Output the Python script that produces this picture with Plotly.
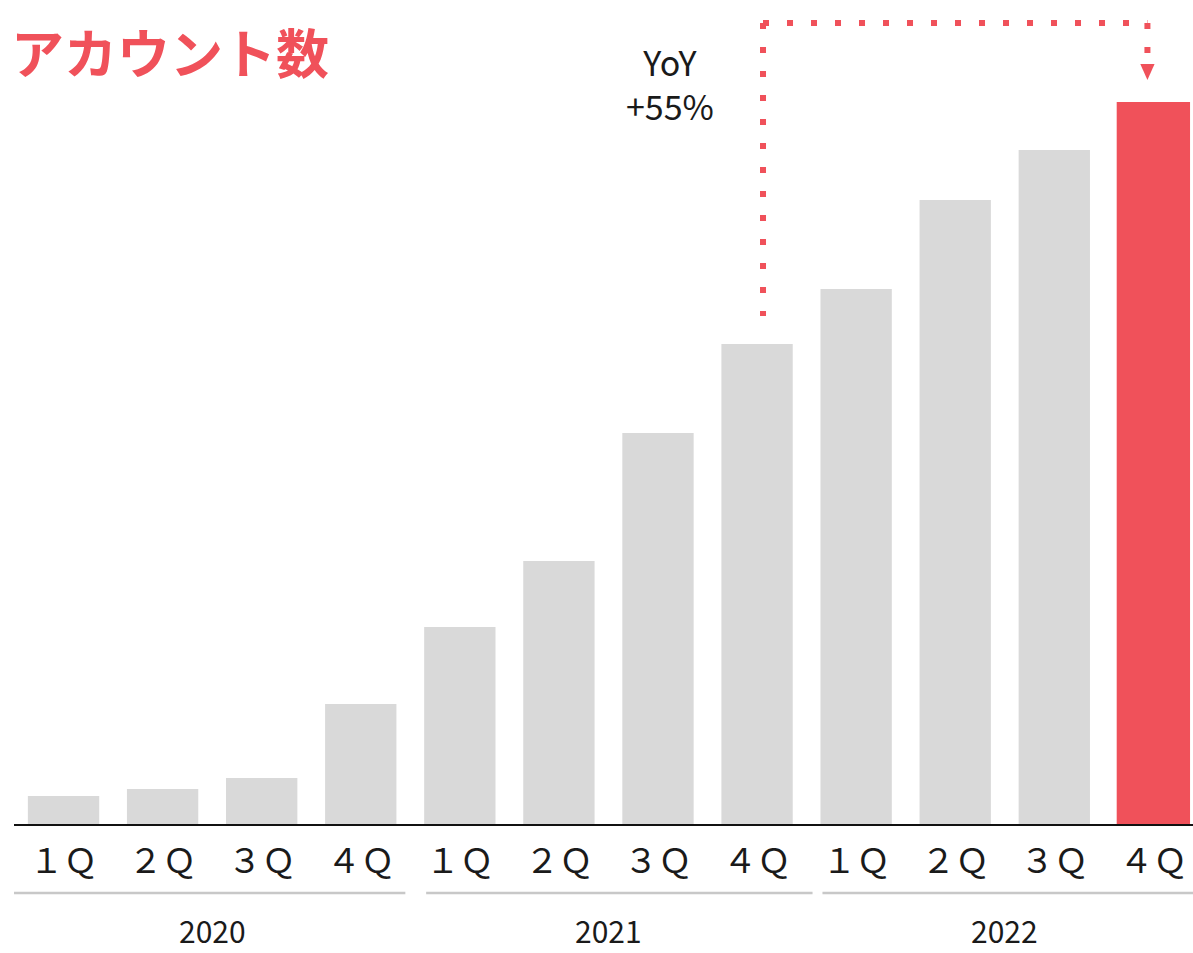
import plotly.graph_objects as go

# Quarterly account counts (relative units), 2020 1Q .. 2022 4Q
quarters = ["１Ｑ", "２Ｑ", "３Ｑ", "４Ｑ"] * 3
years = ["2020", "2021", "2022"]
accounts = [28, 35, 46, 120, 197, 263, 391, 480, 535, 624, 674, 721]
yoy_label = "YoY<br>+55%"

RED = "#F0515A"
GRAY = "#D9D9D9"
FONT = "Noto Sans CJK JP"

x_idx = list(range(len(accounts)))
colors = [GRAY] * (len(accounts) - 1) + [RED]
line_w = [0] * (len(accounts) - 1) + [2]

fig = go.Figure(
    go.Bar(
        x=x_idx,
        y=accounts,
        marker=dict(color=colors, line=dict(color=colors, width=line_w)),
        width=0.72,
        hoverinfo="skip",
    )
)

y_top = 824
fig.update_layout(
    width=1193,
    height=953,
    margin=dict(l=14, r=0, t=0, b=129),
    paper_bgcolor="white",
    plot_bgcolor="white",
    showlegend=False,
    xaxis=dict(
        range=[-0.5, 11.4],
        tickmode="array",
        tickvals=x_idx,
        ticktext=quarters,
        tickfont=dict(family=FONT, size=34, color="#1a1a1a"),
        ticks="",
        ticklabelstandoff=6,
        showline=True,
        linecolor="#111111",
        linewidth=2,
        showgrid=False,
        zeroline=False,
    ),
    yaxis=dict(range=[0, y_top], visible=False),
)

# Year group separators and labels
group_pad = [(-0.53, 0.45), (-0.34, 0.56), (-0.34, 0.56)]
for g, year in enumerate(years):
    first, last = 4 * g, 4 * g + 3
    pad_l, pad_r = group_pad[g]
    fig.add_shape(
        type="line", xref="x", yref="paper",
        x0=first + pad_l, x1=last + pad_r, y0=-0.0837, y1=-0.0837,
        line=dict(color="#C8C8C8", width=2.5),
    )
    fig.add_annotation(
        x=(first + last) / 2, y=-(930 - y_top) / y_top, xref="x", yref="paper",
        text=year, showarrow=False, yanchor="middle",
        font=dict(family=FONT, size=30, color="#1a1a1a"),
    )

# Dotted connector from 2021 4Q to 2022 4Q
i_from, i_to = 7, 11
xa, xb = i_from + 0.06, i_to - 0.06
y_line = 801
dot = dict(color=RED, width=6, dash="6px,18px")
fig.add_shape(type="line", xref="x", yref="y",
              x0=xa, x1=xa, y0=y_line, y1=accounts[i_from] + 28, line=dot)
fig.add_shape(type="line", xref="x", yref="y",
              x0=xa, x1=xb, y0=y_line, y1=y_line, line=dot)
fig.add_shape(type="line", xref="x", yref="y",
              x0=xb, x1=xb, y0=y_line, y1=y_line - 30, line=dot)
fig.add_shape(
    type="path", xref="x", yref="y",
    path=f"M {xb - 0.072} 760 L {xb + 0.072} 760 L {xb} 744 Z",
    fillcolor=RED, line=dict(width=0),
)

fig.add_annotation(
    x=6.12, y=741, xref="x", yref="y",
    text=yoy_label, showarrow=False, align="center",
    font=dict(family=FONT, size=34, color="#1a1a1a"),
)

# Title
fig.add_annotation(
    x=-0.004, y=(y_top - 51) / y_top, xref="paper", yref="paper",
    xanchor="left", yanchor="middle",
    text="<b>アカウント数</b>", showarrow=False,
    font=dict(family=FONT, size=53, color=RED),
)

fig.write_html("out.html")
